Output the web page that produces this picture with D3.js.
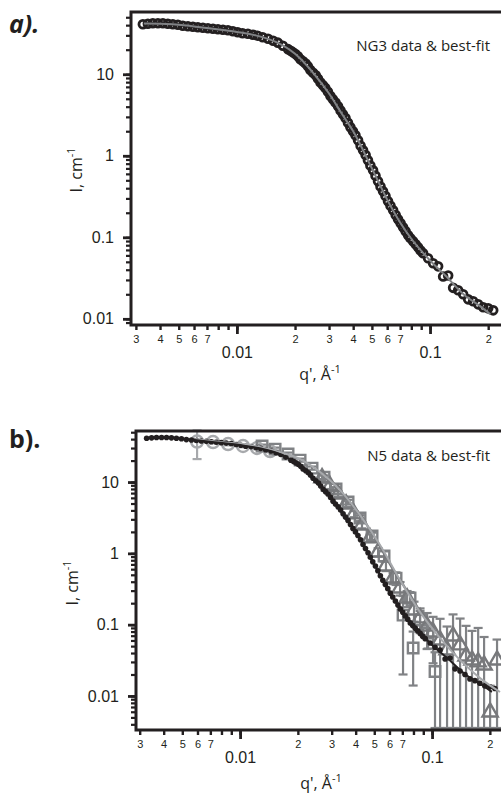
<!DOCTYPE html>
<html>
<head>
<meta charset="utf-8">
<script src="https://cdn.jsdelivr.net/npm/d3@7"></script>
<style>
  body { margin: 0; background: #fff; }
  svg { display: block; font-family: "Open Sans", sans-serif; }
</style>
</head>
<body>
<div id="chart"></div>
<script>
// NG3 data: panel a circles, panel b black dots
const ng3Q = [0.00326,0.00346,0.00367,0.00390,0.00414,0.00439,0.00466,0.00495,0.00525,0.00558,
              0.00592,0.00628,0.00667,0.00708,0.00752,0.00798,0.00847,0.00899,0.00954,0.0101,
              0.0107,0.0114,0.0121,0.0128,0.0136,0.0145,0.0154,0.0163,0.0173,0.0184,
              0.0190,0.0195,0.0201,0.0207,0.0213,0.0220,0.0227,0.0233,0.0240,0.0248,
              0.0256,0.0263,0.0271,0.0279,0.0287,0.0296,0.0305,0.0314,0.0324,0.0334,
              0.0344,0.0354,0.0365,0.0376,0.0387,0.0399,0.0411,0.0424,0.0437,0.0450,
              0.0464,0.0477,0.0491,0.0507,0.0522,0.0538,0.0554,0.0571,0.0588,0.0606,
              0.0624,0.0644,0.0664,0.0683,0.0704,0.0725,0.0747,0.0770,0.0793,0.0817,
              0.0842,0.0867,0.0893,0.0921,0.0977,0.1037,0.1101,
              0.1169,0.1241,0.1317,0.1398,0.1484,0.1575,0.1672,0.1775,0.1884,0.2000,0.2123];
const ng3I = [41.1,41.7,42.2,42.2,42.2,41.7,41.1,40.5,39.4,38.8,
              38.3,37.7,37.2,36.7,36.2,35.7,35.2,34.7,33.7,32.8,
              31.8,31.4,30.5,29.7,28.4,27.3,25.8,24.4,22.4,20.3,
              19.4,18.6,17.7,16.6,15.3,14.4,13.5,12.5,11.3,10.4,
              9.7,8.8,7.9,7.33,6.8,6.10,5.4,4.93,4.5,4.05,
              3.6,3.23,2.9,2.54,2.24,2.00,1.78,1.55,1.33,1.168,
              1.02,0.880,0.76,0.664,0.57,0.486,0.42,0.367,0.32,0.2765,
              0.244,0.2144,0.188,0.1663,0.149,0.1327,0.119,0.1058,0.097,0.0893,
              0.082,0.0754,0.069,0.0636,0.0553,0.0480,0.0440,
              0.0330,0.0340,0.0240,0.0224,0.0200,0.01734,0.01640,0.01506,0.01384,0.01345,0.01271];

// NG3 best-fit
const fitQ = [0.0033,0.004,0.0055,0.007,0.01,0.013,0.016,0.02,0.025,0.03,0.035,0.04,0.05,0.06,0.07,0.08,0.1,0.12,0.15,0.18,0.205];
const fitI = [41.8,41.6,39.6,36.8,33.0,29.3,24.8,17.8,10.2,5.8,3.25,2.0,0.70,0.29,0.152,0.096,0.052,0.034,0.0198,0.0145,0.0114];

// N5 data (three q ranges) with error bars
const n5CircQ = [0.00597,0.00723,0.00866,0.01036,0.01226,0.01433];
const n5CircI = [37,36.4,34.1,32.0,30.0,27.2];
const n5CircErr = [16,1.5,1.4,1.3,1.2,1.1];

const n5SqQ = [0.01302,0.01522,0.01778,0.02054,0.02371,0.02738,0.03162,0.03652,0.04217,0.0487,0.05623,0.06494,0.0706,0.0768,0.0797,0.0866,0.0953,0.1036];
const n5SqI = [32.0,29.0,24.7,20.3,15.7,11.7,7.98,5.24,3.13,1.75,0.916,0.450,0.136,0.236,0.047,0.116,0.0762,0.022];
const n5SqErr = [1.5,1.4,1.2,1.0,0.8,0.7,0.5,0.4,0.3,0.2,0.15,0.09,0.116,0.05,0.033,0.04,0.03,0.019];

const n5TriQ = [0.02673,0.02943,0.03238,0.03566,0.03926,0.04315,0.04753,0.05236,0.05754,0.06266,
                0.06813,0.07413,0.08054,0.0866,0.0942,0.1012,0.1101,0.1197,0.1286,0.1400,
                0.1503,0.1615,0.1738,0.1866,0.2006,0.2180];
const n5TriI = [11.4,8.79,6.79,4.91,3.56,2.49,1.64,1.04,0.664,0.450,
                0.326,0.236,0.160,0.124,0.0955,0.0787,0.0608,0.0441,0.0692,0.0518,
                0.0362,0.0318,0.0299,0.0271,0.00594,0.0318];
const n5TriErr = [1.0,0.8,0.6,0.45,0.35,0.25,0.2,0.14,0.1,0.08,
                  0.07,0.06,0.05,0.045,0.05,0.05,0.06,0.05,0.07,0.07,
                  0.06,0.05,0.06,0.04,0.008,0.03];

// N5 best-fit
const n5FitQ = [0.00583,0.00787,0.01127,0.01616,0.02054,0.0261,0.03318,0.04217,0.05358,0.06813,0.0866,0.1101,0.14,0.1778,0.2259];
const n5FitI = [40.1,36.4,33.0,26.3,21.0,13.8,7.72,3.44,1.31,0.422,0.150,0.0649,0.0318,0.0178,0.01135];

// tick labels
const yMajorTicks = [0.01, 0.1, 1, 10];
const yMajorLabels = ["0.01", "0.1", "1", "10"];
const xMajorTicks = [0.01, 0.1];
const xMajorLabels = ["0.01", "0.1"];
const xMinorDigits = [2, 3, 4, 5, 6, 7];

const zip = (qs, is, es) => qs.map((q, i) => ({ q: q, I: is[i], err: es ? es[i] : 0 }));

const svg = d3.select("#chart").append("svg")
    .attr("width", 501)
    .attr("height", 793);

// scales for the two panels
const xA = d3.scaleLog().domain([0.00283, 0.233]).range([131, 501]);
const yA = d3.scaleLog().domain([0.0084, 58]).range([325, 12]);
const xB = d3.scaleLog().domain([0.00287, 0.2286]).range([136, 501]);
const yB = d3.scaleLog().domain([0.00333, 52]).range([730, 431]);

function drawAxes(x, y) {
    const left = x.range()[0], bottom = y.range()[0], top = y.range()[1];

    // y minor ticks
    const yMinor = svg.append("g")
        .attr("transform", `translate(${left},0)`)
        .call(d3.axisLeft(y).tickValues(y.ticks().filter(d => y(d) < bottom - 1)).tickSize(5).tickFormat(""));
    yMinor.selectAll(".tick line").attr("stroke", "#231f20").attr("stroke-width", 2.2);

    // y major ticks
    const yMajor = svg.append("g")
        .attr("transform", `translate(${left},0)`)
        .call(d3.axisLeft(y).tickValues(yMajorTicks).tickSize(8).tickPadding(9)
            .tickFormat((d, i) => yMajorLabels[i]));
    yMajor.selectAll(".tick line").attr("stroke", "#231f20").attr("stroke-width", 2.8);
    yMajor.selectAll("text").style("font-size", "16px").attr("fill", "#231f20");

    // x minor ticks, digit labels
    const xMinor = svg.append("g")
        .attr("transform", `translate(0,${bottom})`)
        .call(d3.axisBottom(x).tickValues(x.ticks().filter(d => x(d) > left + 1)).tickSize(5)
            .tickFormat(d => {
                const digit = Math.round(d / Math.pow(10, Math.floor(Math.log10(d) + 1e-9)));
                return xMinorDigits.includes(digit) ? digit : "";
            }));
    xMinor.selectAll(".tick line").attr("stroke", "#231f20").attr("stroke-width", 2.4);
    xMinor.selectAll("text").attr("y", 18).attr("dy", 0)
        .style("font-size", "11px").attr("fill", "#231f20");

    // x major ticks
    const xMajor = svg.append("g")
        .attr("transform", `translate(0,${bottom})`)
        .call(d3.axisBottom(x).tickValues(xMajorTicks).tickSize(9)
            .tickFormat((d, i) => xMajorLabels[i]));
    xMajor.selectAll(".tick line").attr("stroke", "#231f20").attr("stroke-width", 2.8);
    xMajor.selectAll("text").attr("y", 33).attr("dy", 0)
        .style("font-size", "16px").attr("fill", "#231f20");

    svg.selectAll(".domain").remove();

    // frame: left, top, bottom (right side runs off the page)
    svg.append("path")
        .attr("d", `M${x.range()[1] + 5},${top}H${left}V${bottom}H${x.range()[1] + 5}`)
        .attr("fill", "none")
        .attr("stroke", "#231f20")
        .attr("stroke-width", 3);
}

function axisTitles(cx, cy, qy, qx) {
    const yt = svg.append("text")
        .attr("transform", `translate(${cx},${cy}) rotate(-90)`)
        .attr("text-anchor", "middle")
        .style("font-size", "16px")
        .attr("fill", "#231f20");
    yt.append("tspan").text("I, cm");
    yt.append("tspan").attr("dy", -7).style("font-size", "11px").text("-1");

    const xt = svg.append("text")
        .attr("x", qx).attr("y", qy)
        .attr("text-anchor", "middle")
        .style("font-size", "16px")
        .attr("fill", "#231f20");
    xt.append("tspan").text("q', Å");
    xt.append("tspan").attr("dy", -7).style("font-size", "11px").text("-1");
}

function errorBars(data, x, y, color) {
    const ymin = y.domain()[0];
    const bottom = y.range()[0];
    const g = svg.append("g").attr("stroke", color).attr("stroke-width", 2.2).attr("fill", "none");
    data.forEach(d => {
        const yt = y(d.I + d.err);
        const low = d.I - d.err;
        const yb = low > ymin ? y(low) : bottom - 2;
        const cx = x(d.q);
        g.append("line").attr("x1", cx).attr("x2", cx).attr("y1", yt).attr("y2", yb);
        g.append("line").attr("x1", cx - 4.5).attr("x2", cx + 4.5).attr("y1", yt).attr("y2", yt);
        g.append("line").attr("x1", cx - 4.5).attr("x2", cx + 4.5).attr("y1", yb).attr("y2", yb);
    });
}

const line = (x, y) => d3.line()
    .x(d => x(d.q))
    .y(d => y(d.I))
    .curve(d3.curveMonotoneX);

// ---------- panel a ----------
const ng3 = zip(ng3Q, ng3I);
const fit = zip(fitQ, fitI);

svg.append("g").selectAll("circle")
    .data(ng3)
    .enter().append("circle")
    .attr("cx", d => xA(d.q))
    .attr("cy", d => yA(d.I))
    .attr("r", 3.9)
    .attr("fill", "none")
    .attr("stroke", "#231f20")
    .attr("stroke-width", 2.8);

svg.append("path")
    .datum(fit)
    .attr("fill", "none")
    .attr("stroke", "#808285")
    .attr("stroke-width", 2)
    .attr("d", line(xA, yA));

drawAxes(xA, yA);
axisTitles(82, 170, 380, 320);

svg.append("text")
    .attr("x", 490).attr("y", 51)
    .attr("text-anchor", "end")
    .style("font-size", "15px")
    .attr("fill", "#231f20")
    .text("NG3 data & best-fit");

svg.append("text")
    .attr("x", 9).attr("y", 33)
    .style("font-size", "25px").style("font-weight", "bold").style("font-style", "italic")
    .attr("fill", "#231f20")
    .text("a).");

// ---------- panel b ----------
const circ = zip(n5CircQ, n5CircI, n5CircErr);
const sq = zip(n5SqQ, n5SqI, n5SqErr);
const tri = zip(n5TriQ, n5TriI, n5TriErr);
const n5fit = zip(n5FitQ, n5FitI);

errorBars(circ, xB, yB, "#a7a9ac");
errorBars(sq, xB, yB, "#808285");
errorBars(tri, xB, yB, "#808285");

svg.append("g").selectAll("circle")
    .data(circ)
    .enter().append("circle")
    .attr("cx", d => xB(d.q))
    .attr("cy", d => yB(d.I))
    .attr("r", 6)
    .attr("fill", "none")
    .attr("stroke", "#a7a9ac")
    .attr("stroke-width", 2.4);

svg.append("g").selectAll("path")
    .data(sq)
    .enter().append("path")
    .attr("transform", d => `translate(${xB(d.q)},${yB(d.I)})`)
    .attr("d", d3.symbol().type(d3.symbolSquare).size(110))
    .attr("fill", "none")
    .attr("stroke", "#808285")
    .attr("stroke-width", 2.4);

svg.append("g").selectAll("path")
    .data(tri)
    .enter().append("path")
    .attr("transform", d => `translate(${xB(d.q)},${yB(d.I)})`)
    .attr("d", d3.symbol().type(d3.symbolTriangle).size(100))
    .attr("fill", "none")
    .attr("stroke", "#77787b")
    .attr("stroke-width", 2.4);

svg.append("g").selectAll("circle")
    .data(ng3)
    .enter().append("circle")
    .attr("cx", d => xB(d.q))
    .attr("cy", d => yB(d.I))
    .attr("r", 2.8)
    .attr("fill", "#231f20");

svg.append("path")
    .datum(n5fit)
    .attr("fill", "none")
    .attr("stroke", "#a7a9ac")
    .attr("stroke-width", 2)
    .attr("d", line(xB, yB));

svg.append("path")
    .datum(fit.filter(d => d.q >= 0.0055))
    .attr("fill", "none")
    .attr("stroke", "#231f20")
    .attr("stroke-width", 2)
    .attr("d", line(xB, yB));

drawAxes(xB, yB);
axisTitles(78, 583, 789, 321);

svg.append("text")
    .attr("x", 490).attr("y", 461)
    .attr("text-anchor", "end")
    .style("font-size", "15px")
    .attr("fill", "#231f20")
    .text("N5 data & best-fit");

svg.append("text")
    .attr("x", 9).attr("y", 448)
    .style("font-size", "25px").style("font-weight", "bold")
    .attr("fill", "#231f20")
    .text("b).");
</script>
</body>
</html>
